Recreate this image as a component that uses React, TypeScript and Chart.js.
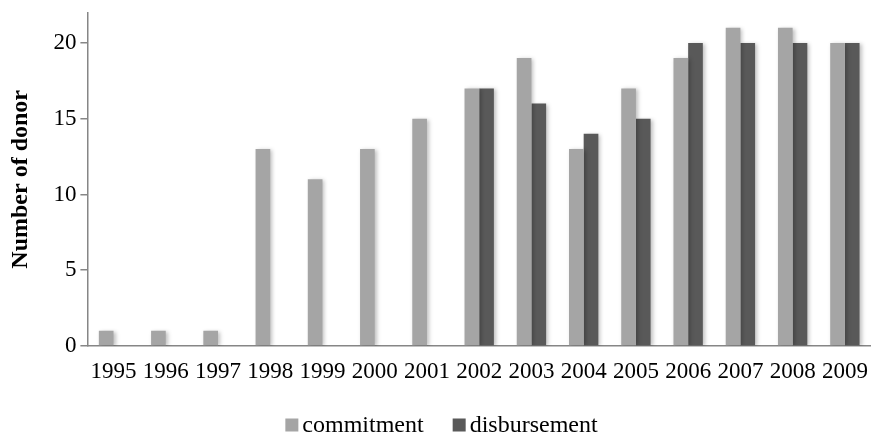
import React, { useEffect, useRef } from "react";
import { Chart, registerables } from "chart.js";

Chart.register(...registerables);

const years = ["1995", "1996", "1997", "1998", "1999", "2000", "2001", "2002", "2003", "2004", "2005", "2006", "2007", "2008", "2009"];
const commitment = [1, 1, 1, 13, 11, 13, 15, 17, 19, 13, 17, 19, 21, 21, 20];
const disbursement = [0, 0, 0, 0, 0, 0, 0, 17, 16, 14, 15, 20, 20, 20, 20];
const yTicks = [0, 5, 10, 15, 20];

const FONT = "'Liberation Serif', 'Times New Roman', serif";
const AXIS = "#868686";

const shadowPlugin = {
  id: "barShadow",
  beforeDatasetsDraw(chart: any) {
    const ctx = chart.ctx;
    ctx.save();
    ctx.shadowColor = "rgba(0,0,0,0.25)";
    ctx.shadowBlur = 4;
    ctx.shadowOffsetX = 2;
    ctx.shadowOffsetY = 1;
  },
  afterDatasetsDraw(chart: any) {
    chart.ctx.restore();
  },
};

// Legend drawn from the chart's own datasets (labels + colours)
const legendPlugin = {
  id: "customLegend",
  afterDraw(chart: any) {
    const ctx = chart.ctx;
    const box = 13;
    const gap = 4;
    const itemGap = 29;
    ctx.save();
    ctx.font = `24px ${FONT}`;
    ctx.textBaseline = "middle";
    ctx.textAlign = "left";
    const items = chart.data.datasets.map((d: any) => ({
      text: d.label,
      color: d.backgroundColor,
      w: ctx.measureText(d.label).width,
    }));
    const total = items.reduce((s: number, it: any, i: number) => s + box + gap + it.w + (i > 0 ? itemGap : 0), 0);
    let x = chart.width / 2 + 6 - total / 2;
    const cy = chart.height - 11;
    items.forEach((it: any, i: number) => {
      if (i > 0) x += itemGap;
      ctx.fillStyle = it.color;
      ctx.fillRect(x, cy - box / 2, box, box);
      x += box + gap;
      ctx.fillStyle = "#000";
      ctx.fillText(it.text, x, cy + 1);
      x += it.w;
    });
    ctx.restore();
  },
};

export default function App() {
  const ref = useRef<HTMLCanvasElement | null>(null);
  useEffect(() => {
    if (!ref.current) return;
    const chart = new Chart(ref.current, {
      type: "bar",
      data: {
        labels: years,
        datasets: [
          { label: "commitment", data: commitment, backgroundColor: "#a5a5a5", borderWidth: 0 },
          { label: "disbursement", data: disbursement, backgroundColor: "#595959", borderWidth: 0 },
        ],
      },
      plugins: [shadowPlugin, legendPlugin],
      options: {
        animation: false,
        responsive: true,
        maintainAspectRatio: false,
        devicePixelRatio: 1,
        layout: { padding: { left: 0, right: 0, top: 0, bottom: 38 } },
        datasets: { bar: { barPercentage: 1, categoryPercentage: 0.562 } },
        plugins: {
          legend: { display: false },
          tooltip: { enabled: false },
        },
        scales: {
          x: {
            grid: { display: false, drawTicks: false },
            border: { display: true, color: AXIS, width: 1.5 },
            ticks: { font: { family: FONT, size: 23, lineHeight: 2 }, color: "#000", padding: 3, maxRotation: 0, autoSkip: false },
          },
          y: {
            min: 0,
            max: 22,
            afterBuildTicks: (scale: any) => {
              scale.ticks = yTicks.map((v) => ({ value: v }));
            },
            grid: { drawOnChartArea: false, drawTicks: true, tickLength: 7, color: AXIS, lineWidth: 1.5 },
            border: { display: true, color: AXIS, width: 1.5 },
            ticks: { font: { family: FONT, size: 23, lineHeight: 0.75 }, color: "#000", padding: 4 },
            title: {
              display: true,
              text: "Number of donor",
              font: { family: FONT, size: 24, weight: "bold" },
              color: "#000",
              padding: { top: 6, bottom: 14.6 },
            },
          },
        },
      } as any,
    });
    return () => chart.destroy();
  }, []);
  return (
    <div style={{ position: "fixed", left: 0, top: 0, width: 871, height: 436, background: "#fff" }}>
      <canvas ref={ref} />
    </div>
  );
}
